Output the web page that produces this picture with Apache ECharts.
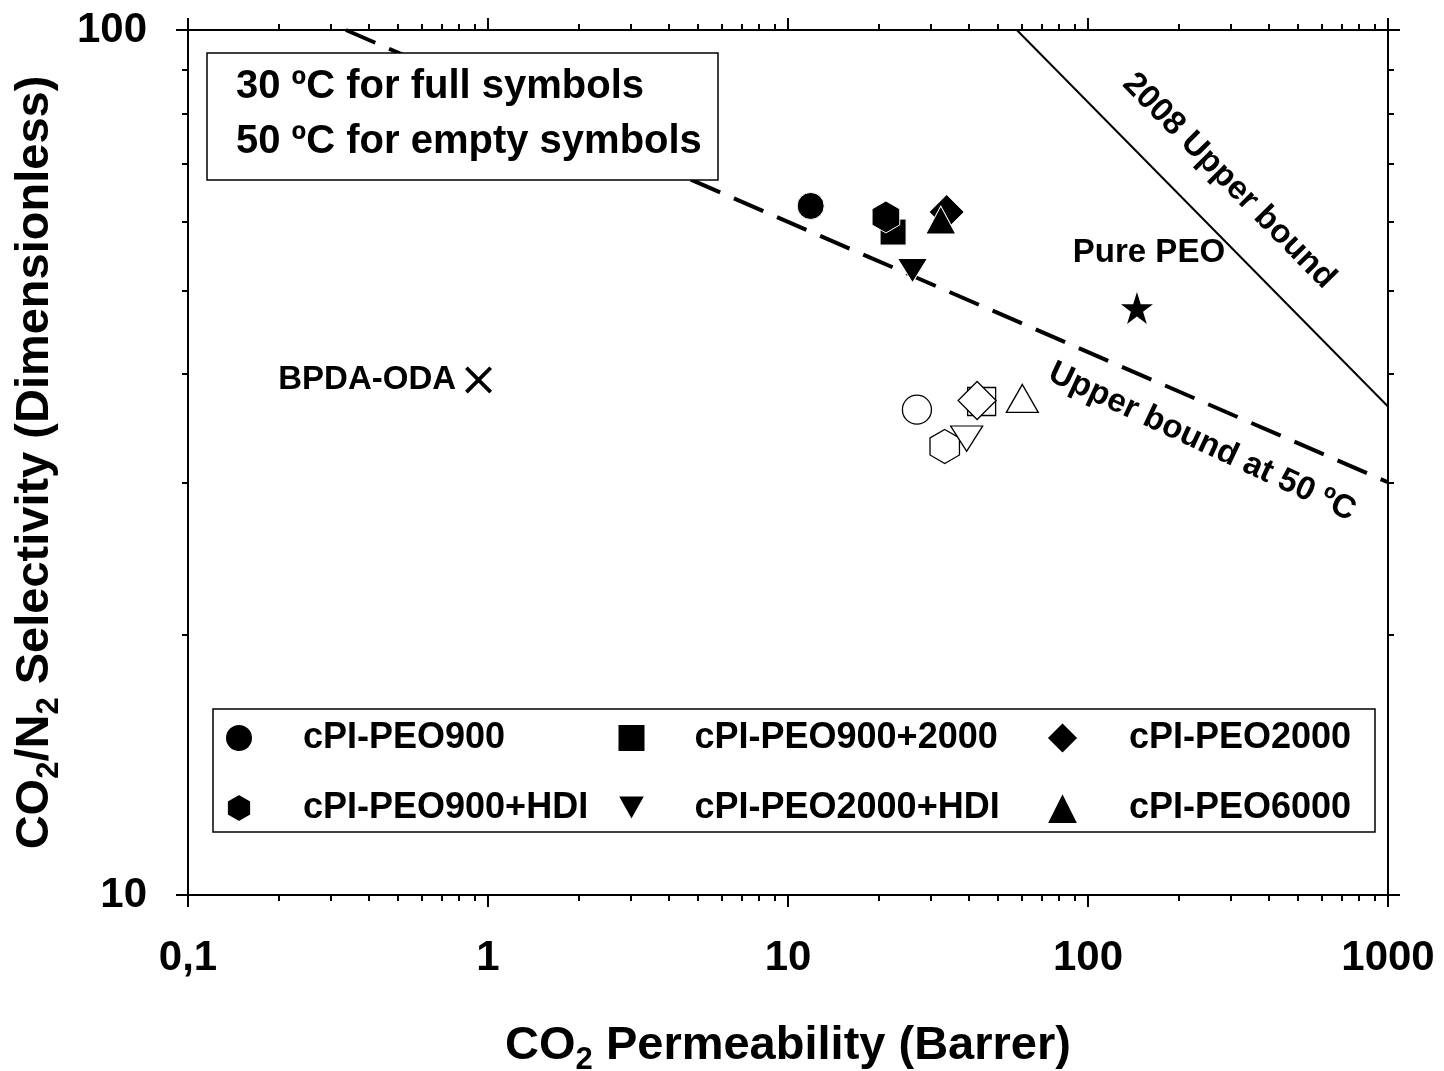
<!DOCTYPE html>
<html>
<head>
<meta charset="utf-8">
<title>CO2/N2 selectivity vs CO2 permeability</title>
<script src="https://cdn.jsdelivr.net/npm/echarts@6/dist/echarts.min.js"></script>
<style>
  html, body { margin: 0; padding: 0; background: #fff; }
  #chart { width: 1444px; height: 1071px; }
</style>
</head>
<body>
<div id="chart"></div>
<script>
// ---- data ----
// membrane names (30 ºC full symbols / 50 ºC empty symbols share the order below)
const membranes = ['cPI-PEO900', 'cPI-PEO900+2000', 'cPI-PEO900+HDI', 'cPI-PEO2000+HDI', 'cPI-PEO2000', 'cPI-PEO6000'];
// CO2 permeability (Barrer) and CO2/N2 selectivity at 30 ºC
const perm30 = [11.9, 22.4, 21.2, 26.0, 33.8, 32.3];
const sel30 = [62.6, 58.4, 60.8, 52.7, 61.6, 60.3];
// same membranes at 50 ºC
const perm50 = [26.9, 44.2, 33.3, 39.4, 42.7, 60.4];
const sel50 = [36.4, 37.2, 33.0, 33.7, 37.3, 37.5];
// reference materials
const bpdaOda = [0.93, 39.4];
const purePeo = [145.6, 47.7];
// upper bound lines (end points)
const bound2008 = [[57.9, 100], [1000, 36.7]];
const bound50C = [[0.336, 100], [1000, 30.0]];
// axis ticks
const xMajorTicks = [0.1, 1, 10, 100, 1000];
const xMinorTicks = [0.2, 0.3, 0.4, 0.5, 0.6, 0.7, 0.8, 0.9, 2, 3, 4, 5, 6, 7, 8, 9,
                     20, 30, 40, 50, 60, 70, 80, 90, 200, 300, 400, 500, 600, 700, 800, 900];
const yMajorTicks = [10, 100];
const yMinorTicks = [20, 30, 40, 50, 60, 70, 80, 90];
// legend columns
const legendColumns = [
  ['cPI-PEO900', 'cPI-PEO900+HDI'],
  ['cPI-PEO900+2000', 'cPI-PEO2000+HDI'],
  ['cPI-PEO2000', 'cPI-PEO6000']
];

// ---- styling ----
const FONT = '"Liberation Sans", Arial, Helvetica, sans-serif';
const HEX = 'path://M0,-1 L0.866,-0.5 L0.866,0.5 L0,1 L-0.866,0.5 L-0.866,-0.5 Z';
const TRI_DOWN = 'path://M0,0 L2,0 L1,1.8 Z';
const STAR = 'path://M0,-1 L0.2245,-0.309 L0.951,-0.309 L0.363,0.118 L0.588,0.809 L0,0.382 L-0.588,0.809 L-0.363,0.118 L-0.951,-0.309 L-0.2245,-0.309 Z';
const CROSS = 'path://M-1,-0.8 L-0.8,-1 L1,0.8 L0.8,1 Z M0.8,-1 L1,-0.8 L-0.8,1 L-1,0.8 Z';

const symbols = ['circle', 'rect', HEX, TRI_DOWN, 'diamond', 'triangle'];
const sizes30 = [27, 26, 32, [30, 27], 35, [30, 28]];
const sizes50 = [29, 28, 34, [32, 28], 38, [32, 28]];

const xMin = xMajorTicks[0], xMax = xMajorTicks[xMajorTicks.length - 1];
const yMin = yMajorTicks[0], yMax = yMajorTicks[yMajorTicks.length - 1];

function isTenth(v) { return Math.abs(v - 0.1) < 1e-9; }

function xAxisDef(position, minor, showLabels) {
  return {
    type: 'log', logBase: 10, min: xMin, max: xMax, position: position, gridIndex: 0,
    axisLine: { show: !minor, onZero: false, lineStyle: { color: '#000', width: 2 } },
    axisTick: minor
      ? { show: true, length: 6, customValues: xMinorTicks, lineStyle: { color: '#000', width: 2 } }
      : { show: true, length: 12, lineStyle: { color: '#000', width: 2 } },
    axisLabel: showLabels ? {
      show: true, margin: 42, fontSize: 42, fontWeight: 'bold', fontFamily: FONT, color: '#000',
      showMinLabel: true, showMaxLabel: true,
      formatter: v => isTenth(v) ? '0,1' : String(Math.round(v))
    } : { show: false },
    splitLine: { show: false }, minorTick: { show: false }, minorSplitLine: { show: false }
  };
}
function yAxisDef(position, minor, showLabels) {
  return {
    type: 'log', logBase: 10, min: yMin, max: yMax, position: position, gridIndex: 0,
    axisLine: { show: !minor, onZero: false, lineStyle: { color: '#000', width: 2 } },
    axisTick: minor
      ? { show: true, length: 6, customValues: yMinorTicks, lineStyle: { color: '#000', width: 2 } }
      : { show: true, length: 12, lineStyle: { color: '#000', width: 2 } },
    axisLabel: showLabels ? {
      show: true, margin: 41, fontSize: 42, fontWeight: 'bold', fontFamily: FONT, color: '#000',
      showMinLabel: true, showMaxLabel: true,
      formatter: v => String(Math.round(v))
    } : { show: false },
    splitLine: { show: false }, minorTick: { show: false }, minorSplitLine: { show: false }
  };
}

const titleRich = {
  m: { fontSize: 47, fontWeight: 'bold', fontFamily: FONT, color: '#000', lineHeight: 60 },
  s: { fontSize: 31, fontWeight: 'bold', fontFamily: FONT, color: '#000', lineHeight: 30, verticalAlign: 'bottom' }
};

const xAxes = [
  xAxisDef('bottom', false, true),
  xAxisDef('bottom', true, false),
  xAxisDef('top', false, false),
  xAxisDef('top', true, false)
];
Object.assign(xAxes[0], {
  name: '{m|CO}{s|2}{m| Permeability (Barrer)}',
  nameLocation: 'middle', nameGap: 121,
  nameTextStyle: { rich: titleRich }
});
const yAxes = [
  yAxisDef('left', false, true),
  yAxisDef('left', true, false),
  yAxisDef('right', false, false),
  yAxisDef('right', true, false)
];
Object.assign(yAxes[0], {
  name: '{m|CO}{s|2}{m|/N}{s|2}{m| Selectivity (Dimensionless)}',
  nameLocation: 'middle', nameGap: 123, nameRotate: 90,
  nameTextStyle: { rich: titleRich }
});

const series = [];
// bound lines first so that markers sit above them
series.push({
  name: '2008 Upper bound', type: 'line', data: bound2008, symbol: 'none', silent: true,
  lineStyle: { color: '#000', width: 2 }, z: 1
});
series.push({
  name: 'Upper bound at 50 ºC', type: 'line', data: bound50C, symbol: 'none', silent: true,
  lineStyle: { color: '#000', width: 4, type: [32, 15] }, z: 1
});
// 50 ºC: empty symbols
membranes.forEach((m, i) => {
  series.push({
    name: m + ' (50 ºC)', type: 'scatter', data: [[perm50[i], sel50[i]]],
    symbol: symbols[i], symbolSize: sizes50[i], symbolKeepAspect: true,
    itemStyle: { color: '#fff', borderColor: '#000', borderWidth: 1.3, opacity: 1 },
    emphasis: { disabled: true }
  });
});
// 30 ºC: full symbols
membranes.forEach((m, i) => {
  series.push({
    name: m, type: 'scatter', data: [[perm30[i], sel30[i]]],
    symbol: symbols[i], symbolSize: sizes30[i], symbolKeepAspect: true,
    itemStyle: { color: '#000', borderColor: '#fff', borderWidth: 1, opacity: 1 },
    emphasis: { disabled: true }
  });
});
series.push({
  name: 'BPDA-ODA', type: 'scatter', data: [bpdaOda], symbol: CROSS, symbolSize: 27,
  itemStyle: { color: '#000', opacity: 1 }, emphasis: { disabled: true },
  label: { show: true, position: 'left', distance: 9, formatter: 'BPDA-ODA', opacity: 1,
           fontSize: 33, fontWeight: 'bold', fontFamily: FONT, color: '#000' }
});
series.push({
  name: 'Pure PEO', type: 'scatter', data: [purePeo], symbol: STAR, symbolSize: 32,
  itemStyle: { color: '#000', opacity: 1 }, emphasis: { disabled: true },
  label: { show: true, position: 'top', distance: 23, offset: [12, 0], formatter: 'Pure PEO', opacity: 1,
           fontSize: 33, fontWeight: 'bold', fontFamily: FONT, color: '#000' }
});

// three legend columns, each a vertical pair
const legendLefts = [224, 616.5, 1045.5];
const legendPads = [45, 44, 45.5];
const legendIcon = [28, 28, 32];
const legends = legendColumns.map((names, k) => ({
  data: names, orient: 'vertical', left: legendLefts[k], top: 720, padding: 0,
  itemWidth: legendIcon[k], itemHeight: legendIcon[k], itemGap: 34, selectedMode: false,
  textStyle: { fontSize: 36, fontWeight: 'bold', fontFamily: FONT, color: '#000',
               padding: [0, 0, 0, legendPads[k]] }
}));

const annotFont = 'bold 33px ' + FONT;
const option = {
  backgroundColor: '#fff',
  animation: false,
  grid: { left: 188, top: 30, width: 1200, height: 865, outerBoundsMode: 'none', containLabel: false },
  xAxis: xAxes,
  yAxis: yAxes,
  legend: legends,
  series: series,
  graphic: [
    { type: 'rect', z: 10, shape: { x: 207, y: 53, width: 511, height: 127 },
      style: { fill: '#fff', stroke: '#000', lineWidth: 1.5 } },
    { type: 'text', z: 11, x: 236, y: 87,
      style: { text: '30 ºC for full symbols', font: 'bold 40px ' + FONT, fill: '#000', verticalAlign: 'middle' } },
    { type: 'text', z: 11, x: 236, y: 142,
      style: { text: '50 ºC for empty symbols', font: 'bold 40px ' + FONT, fill: '#000', verticalAlign: 'middle' } },
    { type: 'rect', z: 3, shape: { x: 213, y: 709, width: 1162, height: 123 },
      style: { fill: '#fff', stroke: '#000', lineWidth: 1.5 } },
    { type: 'text', z: 11, x: 1229, y: 181, rotation: -45.4 * Math.PI / 180,
      style: { text: '2008 Upper bound', font: annotFont, fill: '#000', align: 'center', verticalAlign: 'middle' } },
    { type: 'text', z: 11, x: 1202, y: 442, rotation: -25 * Math.PI / 180,
      style: { text: 'Upper bound at 50 ºC', font: annotFont, fill: '#000', align: 'center', verticalAlign: 'middle' } }
  ]
};

const chart = echarts.init(document.getElementById('chart'), null, { renderer: 'canvas' });
chart.setOption(option);
</script>
</body>
</html>
